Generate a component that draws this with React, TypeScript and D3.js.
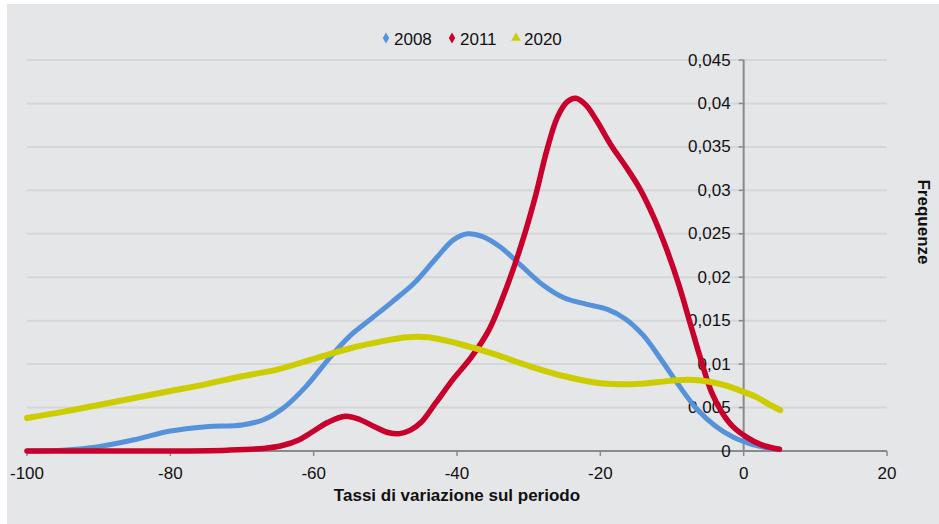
import React from "react";
import * as d3 from "d3";

const seriesNames = ["2008", "2011", "2020"];
const seriesColors = ["#5592da", "#c8002c", "#cccc00"];

const xTicks = [-100, -80, -60, -40, -20, 0, 20];
const yTicks = [0, 0.005, 0.01, 0.015, 0.02, 0.025, 0.03, 0.035, 0.04, 0.045];
const yTickLabels = ["0", "0,005", "0,01", "0,015", "0,02", "0,025", "0,03", "0,035", "0,04", "0,045"];

const data2008: [number, number][] = [
  [-100, 0], [-95, 0.0001], [-90, 0.0005], [-85, 0.0013], [-80, 0.0023],
  [-75, 0.0028], [-70, 0.003], [-67, 0.0036], [-64, 0.0051], [-61, 0.0075],
  [-58, 0.0105], [-55, 0.0132], [-52, 0.0152], [-49, 0.0172], [-46, 0.0193],
  [-43, 0.0221], [-40.5, 0.0243], [-38.5, 0.025], [-36.5, 0.0247], [-34, 0.0235],
  [-31, 0.0213], [-28, 0.0191], [-25, 0.0176], [-22, 0.0169], [-19, 0.0163],
  [-16.5, 0.0152], [-14, 0.0133], [-11.5, 0.0105], [-9, 0.0075], [-6.5, 0.0048],
  [-4, 0.0029], [-1.5, 0.0016], [1, 0.0008], [3, 0.0004], [5, 0.0002],
];

const data2011: [number, number][] = [
  [-100, 0], [-90, 0], [-80, 0], [-72, 0.0001], [-67, 0.0003], [-64.5, 0.0006], [-62, 0.0013],
  [-60, 0.0023], [-58, 0.0033], [-55.6, 0.004], [-53.5, 0.0036], [-51.5, 0.0028],
  [-49.5, 0.0021], [-48, 0.002], [-46.5, 0.0024], [-45, 0.0033], [-43, 0.0055],
  [-40.5, 0.0083], [-38, 0.0108], [-35.5, 0.014], [-33, 0.019], [-31, 0.0238],
  [-29, 0.0295], [-27.5, 0.0345], [-26, 0.0384], [-24.6, 0.0402], [-23.4, 0.0406],
  [-22, 0.0398], [-20.5, 0.038], [-18.5, 0.0352], [-16.5, 0.0328], [-14.5, 0.0302],
  [-12.6, 0.027], [-10.7, 0.0231], [-9, 0.019], [-7.5, 0.0148], [-6, 0.0106],
  [-4.5, 0.0068], [-3, 0.0044], [-1.5, 0.0028], [0.4, 0.0016], [2.5, 0.0007], [5, 0.0002],
];

const data2020: [number, number][] = [
  [-100, 0.0038], [-95, 0.0045], [-90, 0.0053], [-85, 0.0061], [-80, 0.0069], [-75, 0.0077],
  [-70, 0.0086], [-65, 0.0094], [-60, 0.0106], [-55, 0.0118], [-50, 0.0127], [-47, 0.0131],
  [-44, 0.0131], [-40, 0.0124], [-35, 0.0112], [-30, 0.0098], [-25, 0.0086], [-20, 0.0078],
  [-15, 0.0077], [-10, 0.0081], [-7.5, 0.0082], [-5, 0.008], [-2.8, 0.0076], [0, 0.0068],
  [1.8, 0.0062], [3.5, 0.0054], [5.1, 0.0047],
];

const allSeries = [data2008, data2011, data2020];
const seriesWidths = [5, 5.5, 6];

const W = 939;
const H = 524;
const FONT = "'Liberation Sans', Arial, sans-serif";

export default function App() {
  const x = d3.scaleLinear().domain([-100, 20]).range([27, 887]);
  const y = d3.scaleLinear().domain([0, 0.045]).range([451, 60]);
  const line = d3
    .line<[number, number]>()
    .x((d) => x(d[0]))
    .y((d) => y(d[1]))
    .curve(d3.curveCatmullRom.alpha(0.5));

  const legendX = [386, 452, 516];
  const legendY = 38;
  const diamond = d3.symbol().type(d3.symbolDiamond).size(36)();
  const triangle = d3.symbol().type(d3.symbolTriangle).size(40)();

  return (
    <svg
      width={W}
      height={H}
      style={{ position: "absolute", left: 0, top: 0 }}
      fontFamily={FONT}
    >
      <rect x={0} y={0} width={W} height={H} fill="#ffffff" />
      <rect x={7} y={4} width={W - 7} height={H - 4} fill="#e5e6e8" />
      {yTicks.slice(1).map((t) => (
        <line
          key={"g" + t}
          x1={x(-100)}
          x2={x(20)}
          y1={y(t)}
          y2={y(t)}
          stroke="#d5d6d8"
          strokeWidth={2}
        />
      ))}
      <line x1={x(-100)} x2={x(20)} y1={y(0)} y2={y(0)} stroke="#8a8a8a" strokeWidth={2} />
      {xTicks.map((t) => (
        <g key={"xt" + t}>
          <line x1={x(t)} x2={x(t)} y1={y(0)} y2={y(0) + 5} stroke="#8a8a8a" strokeWidth={1.5} />
          <text x={x(t)} y={479} fontSize={17} textAnchor="middle" fill="#111">
            {t}
          </text>
        </g>
      ))}
      <line x1={x(0)} x2={x(0)} y1={y(0.045)} y2={y(0)} stroke="#8a8a8a" strokeWidth={2} />
      {yTicks.map((t, i) => (
        <g key={"yt" + t}>
          <line x1={x(0) - 5} x2={x(0)} y1={y(t)} y2={y(t)} stroke="#8a8a8a" strokeWidth={1.5} />
          <text
            x={x(0) - 13}
            y={y(t)}
            fontSize={17}
            textAnchor="end"
            dominantBaseline="central"
            fill="#111"
          >
            {yTickLabels[i]}
          </text>
        </g>
      ))}
      {allSeries.map((s, i) => (
        <path
          key={"s" + i}
          d={line(s) || ""}
          fill="none"
          stroke={seriesColors[i]}
          strokeWidth={seriesWidths[i]}
          strokeLinecap="round"
          strokeLinejoin="round"
        />
      ))}
      <text x={457} y={501} fontSize={17} fontWeight="bold" textAnchor="middle" fill="#111">
        Tassi di variazione sul periodo
      </text>
      <text
        transform="translate(923,222) rotate(90)"
        fontSize={17}
        fontWeight="bold"
        textAnchor="middle"
        dominantBaseline="central"
        fill="#111"
      >
        Frequenze
      </text>
      {seriesNames.map((n, i) => (
        <g key={"l" + n}>
          <path
            d={(i === 2 ? triangle : diamond) || ""}
            transform={`translate(${legendX[i]},${legendY})`}
            fill={seriesColors[i]}
          />
          <text x={legendX[i] + 8} y={45} fontSize={17} fill="#111">
            {n}
          </text>
        </g>
      ))}
    </svg>
  );
}
